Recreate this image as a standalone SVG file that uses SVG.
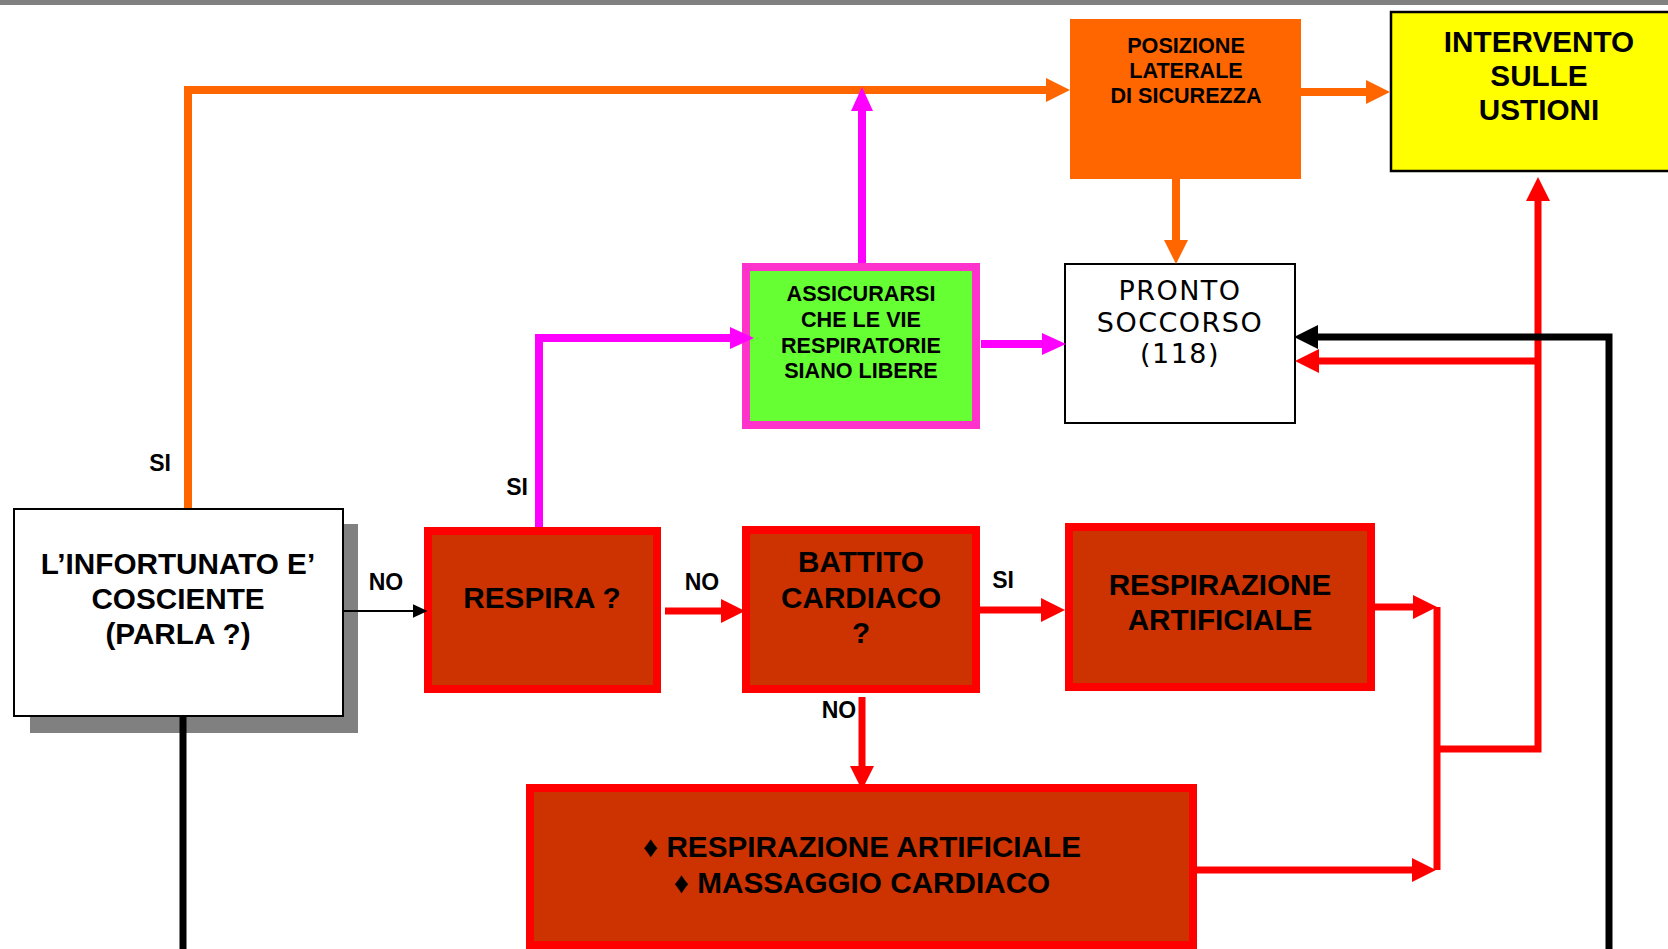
<svg xmlns="http://www.w3.org/2000/svg" width="1668" height="949" viewBox="0 0 1668 949">
<style>
.t{font-family:"Liberation Sans",Arial,sans-serif;font-weight:bold;fill:#000;text-anchor:middle}
.t28{font-size:29.7px}
.t21{font-size:21.6px}
.lbl{font-family:"Liberation Sans",Arial,sans-serif;font-weight:bold;font-size:23px;fill:#000;text-anchor:middle}
.ps{font-family:"DejaVu Sans",sans-serif;font-size:27px;letter-spacing:1.5px;fill:#000;text-anchor:middle}
.redbox{fill:#cc3300;stroke:#ff0000;stroke-width:8}
.c{fill:none;stroke-linejoin:miter}
.or{stroke:#ff6600;stroke-width:8}
.mg{stroke:#ff00ff;stroke-width:8}
.rd{stroke:#ff0000;stroke-width:7}
.bk{stroke:#000;stroke-width:7}
.bkt{stroke:#000;stroke-width:2}
</style>
<defs>
<marker id="aO" viewBox="0 0 24 24" markerUnits="userSpaceOnUse" markerWidth="24" markerHeight="24" refX="1" refY="12" orient="auto"><path d="M0,0 L24,12 L0,24 Z" fill="#ff6600"/></marker>
<marker id="aM" viewBox="0 0 24 24" markerUnits="userSpaceOnUse" markerWidth="24" markerHeight="24" refX="1" refY="12" orient="auto"><path d="M0,1 L24,12 L0,23 Z" fill="#ff00ff"/></marker>
<marker id="aR" viewBox="0 0 24 24" markerUnits="userSpaceOnUse" markerWidth="24" markerHeight="24" refX="1" refY="12" orient="auto"><path d="M0,0 L24,12 L0,24 Z" fill="#ff0000"/></marker>
<marker id="aK" viewBox="0 0 24 24" markerUnits="userSpaceOnUse" markerWidth="24" markerHeight="24" refX="1" refY="12" orient="auto"><path d="M0,0 L24,12 L0,24 Z" fill="#000"/></marker>
<marker id="aKs" viewBox="0 0 15 14" markerUnits="userSpaceOnUse" markerWidth="15" markerHeight="14" refX="0.5" refY="7" orient="auto"><path d="M0,0 L15,7 L0,14 Z" fill="#000"/></marker>
</defs>
<rect x="0" y="0" width="1668" height="949" fill="#fff"/>
<rect x="0" y="0" width="1668" height="5" fill="#808080"/>

<g id="cosciente">
<rect x="30" y="524" width="328" height="209" fill="#808080"/>
<rect x="14" y="509" width="329" height="207" fill="#fff" stroke="#000" stroke-width="2"/>
<text class="t t28" x="178" y="574">L’INFORTUNATO E’</text>
<text class="t t28" x="178" y="609">COSCIENTE</text>
<text class="t t28" x="178" y="644">(PARLA ?)</text>
</g>

<g id="respira">
<rect class="redbox" x="428" y="531" width="229" height="158"/>
<text class="t t28" x="542" y="608">RESPIRA ?</text>
</g>

<g id="battito">
<rect class="redbox" x="746" y="530" width="230" height="159"/>
<text class="t t28" x="861" y="572">BATTITO</text>
<text class="t t28" x="861" y="608">CARDIACO</text>
<text class="t t28" x="861" y="643">?</text>
</g>

<g id="respirazione">
<rect class="redbox" x="1069" y="527" width="302" height="160"/>
<text class="t t28" x="1220" y="595">RESPIRAZIONE</text>
<text class="t t28" x="1220" y="630">ARTIFICIALE</text>
</g>

<g id="massaggio">
<rect class="redbox" x="530" y="788" width="663" height="157"/>
<text class="t t28" x="862" y="857">♦ RESPIRAZIONE ARTIFICIALE</text>
<text class="t t28" x="862" y="893">♦ MASSAGGIO CARDIACO</text>
</g>

<g id="assicurarsi">
<rect x="746" y="267" width="230" height="158" fill="#66ff33" stroke="#ff33cc" stroke-width="8"/>
<text class="t t21" x="861" y="301">ASSICURARSI</text>
<text class="t t21" x="861" y="327">CHE LE VIE</text>
<text class="t t21" x="861" y="353">RESPIRATORIE</text>
<text class="t t21" x="861" y="378">SIANO LIBERE</text>
</g>

<g id="pronto">
<rect x="1065" y="264" width="230" height="159" fill="#fff" stroke="#000" stroke-width="2"/>
<text class="ps" x="1180" y="300">PRONTO</text>
<text class="ps" x="1180" y="332">SOCCORSO</text>
<text class="ps" x="1180" y="363">(118)</text>
</g>

<g id="posizione">
<rect x="1070" y="19" width="231" height="160" fill="#ff6600"/>
<text class="t t21" x="1186" y="53">POSIZIONE</text>
<text class="t t21" x="1186" y="78">LATERALE</text>
<text class="t t21" x="1186" y="103">DI SICUREZZA</text>
</g>

<g id="ustioni">
<rect x="1391" y="12" width="290" height="159" fill="#ffff00" stroke="#000" stroke-width="2.5"/>
<text class="t t28" x="1539" y="52">INTERVENTO</text>
<text class="t t28" x="1539" y="86">SULLE</text>
<text class="t t28" x="1539" y="120">USTIONI</text>
</g>

<g id="connectors">
<path class="c or" d="M188,508 V90 H1047" marker-end="url(#aO)"/>
<path class="c mg" d="M862,263 V110" marker-end="url(#aM)"/>
<path class="c or" d="M1301,92 H1367" marker-end="url(#aO)"/>
<path class="c or" d="M1176,179 V241" marker-end="url(#aO)"/>
<path class="c mg" d="M539,527 V338 H731" marker-end="url(#aM)"/>
<path class="c mg" d="M981,344 H1043" marker-end="url(#aM)"/>
<path class="c bkt" d="M343,611 H413" marker-end="url(#aKs)"/>
<path class="c rd" d="M665,611 H722" marker-end="url(#aR)"/>
<path class="c rd" d="M980,610 H1042" marker-end="url(#aR)"/>
<path class="c rd" d="M862,697 V767" marker-end="url(#aR)"/>
<path class="c rd" d="M1375,607 H1414" marker-end="url(#aR)"/>
<path class="c rd" d="M1197,870 H1413" marker-end="url(#aR)"/>
<path class="c rd" d="M1437,607 V870"/>
<path class="c rd" d="M1437,749 H1538 V200" marker-end="url(#aR)"/>
<path class="c rd" d="M1538,361 H1318" marker-end="url(#aR)"/>
<path class="c bk" d="M1609,949 V337 H1317" marker-end="url(#aK)"/>
<path class="c bk" d="M183,716 V949"/>
</g>

<g id="labels">
<text class="lbl" x="160" y="471">SI</text>
<text class="lbl" x="517" y="495">SI</text>
<text class="lbl" x="386" y="590">NO</text>
<text class="lbl" x="702" y="590">NO</text>
<text class="lbl" x="1003" y="588">SI</text>
<text class="lbl" x="839" y="718">NO</text>
</g>
</svg>
